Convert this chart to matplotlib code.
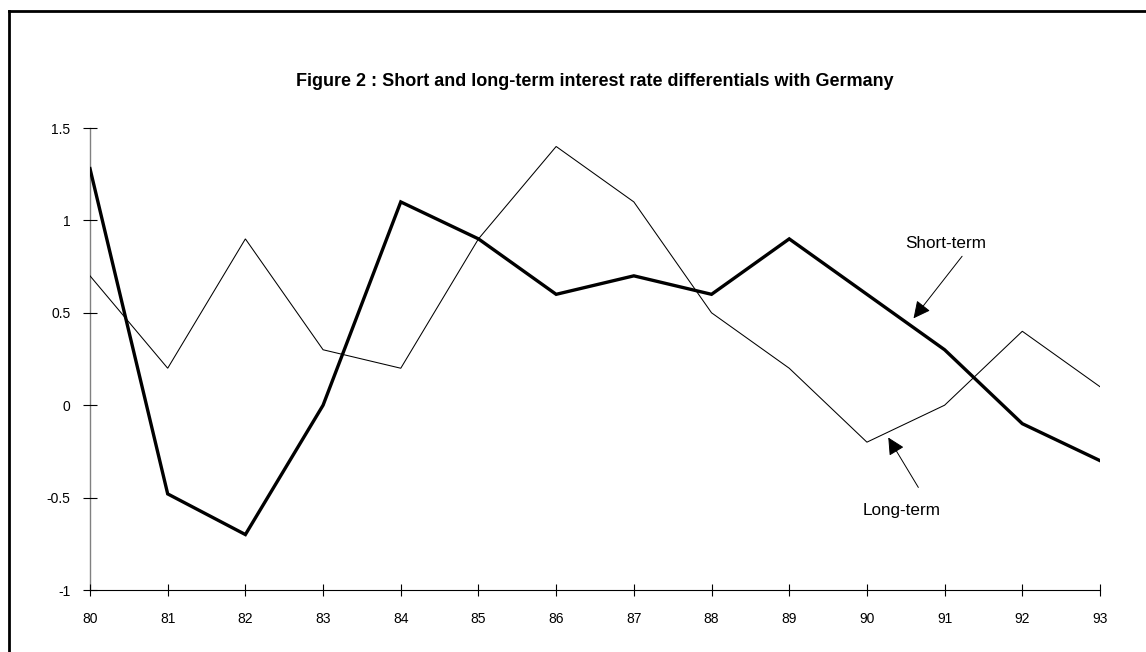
import matplotlib
matplotlib.use("Agg")
import matplotlib.pyplot as plt
from matplotlib.lines import Line2D

plt.rcParams['font.family'] = ['Liberation Sans', 'DejaVu Sans']

# data
years = [80, 81, 82, 83, 84, 85, 86, 87, 88, 89, 90, 91, 92, 93]
short_term = [1.28, -0.48, -0.7, 0.0, 1.1, 0.9, 0.6, 0.7, 0.6, 0.9, 0.6, 0.3, -0.1, -0.3]
long_term = [0.7, 0.2, 0.9, 0.3, 0.2, 0.9, 1.4, 1.1, 0.5, 0.2, -0.2, 0.0, 0.4, 0.1]
yticks = [-1, -0.5, 0, 0.5, 1, 1.5]
ytick_labels = ['-1', '-0.5', '0', '0.5', '1', '1.5']

fig = plt.figure(figsize=(11.46, 6.52), dpi=100)
ax = fig.add_axes([90/1146, 62/652, 1010/1146, 462/652])

ax.plot(years, long_term, color='black', lw=0.75, solid_joinstyle='miter')
ax.plot(years, short_term, color='black', lw=2.4, solid_joinstyle='miter')

ax.set_xlim(80, 93)
ax.set_ylim(-1, 1.5)
ax.set_xticks(years)
ax.set_xticklabels([str(y) for y in years])
ax.set_yticks(yticks)
ax.set_yticklabels(ytick_labels)
ax.tick_params(axis='both', direction='inout', width=0.8, labelsize=10)
ax.tick_params(axis='y', length=10, pad=9)
ax.tick_params(axis='x', length=9, pad=11)

for s in ['top', 'right']:
    ax.spines[s].set_visible(False)
ax.spines['left'].set_color('#808080')
ax.spines['left'].set_linewidth(1.0)
ax.spines['bottom'].set_linewidth(0.8)
ax.spines['left'].set_zorder(0)

ax.set_title('Figure 2 : Short and long-term interest rate differentials with Germany',
             fontsize=13, fontweight='bold', pad=30)

# labels and arrows
ax.text(91.02, 0.877, 'Short-term', ha='center', va='center', fontsize=12.3)
ax.annotate('', xy=(90.6, 0.47), xytext=(91.225, 0.806),
            arrowprops=dict(arrowstyle='-|>', color='black', lw=0.7,
                            mutation_scale=26, shrinkA=0, shrinkB=0))
ax.text(90.447, -0.572, 'Long-term', ha='center', va='center', fontsize=12.3)
ax.annotate('', xy=(90.275, -0.175), xytext=(90.662, -0.445),
            arrowprops=dict(arrowstyle='-|>', color='black', lw=0.7,
                            mutation_scale=26, shrinkA=0, shrinkB=0))

# frame around the figure (left and top edges visible)
fig.add_artist(Line2D([9/1146, 9/1146], [0, 1 - 11/652], color='black', lw=2,
                      transform=fig.transFigure, solid_capstyle='projecting'))
fig.add_artist(Line2D([9/1146, 1], [1 - 11/652, 1 - 11/652], color='black', lw=2,
                      transform=fig.transFigure, solid_capstyle='projecting'))

fig.savefig('out.png', dpi=100)
